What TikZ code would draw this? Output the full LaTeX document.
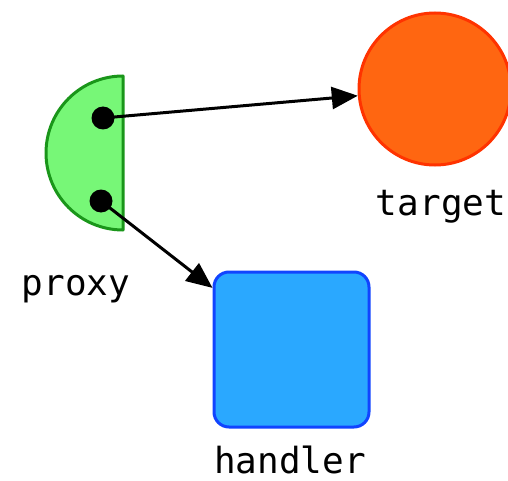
\documentclass[tikz,border=0pt]{standalone}
\usepackage{fontspec}
\newfontfamily\monofont{DejaVu Sans Mono}
\usetikzlibrary{arrows.meta}
\definecolor{pgreen}{HTML}{77F777}
\definecolor{pgreenb}{HTML}{1A961A}
\definecolor{torange}{HTML}{FF6611}
\definecolor{torangeb}{HTML}{FF3300}
\definecolor{hblue}{HTML}{2AA8FF}
\definecolor{hblueb}{HTML}{1144FF}
\tikzset{
  lbl/.style={font=\monofont\fontsize{36}{40}\selectfont, inner sep=0pt, anchor=base},
  dotnode/.style={circle, fill=black, minimum size=23pt, inner sep=0pt},
  conn/.style={line width=3pt, -{Triangle[length=26pt,width=22pt]}}
}
\begin{document}
\begin{tikzpicture}[x=1pt,y=-1pt]
\useasboundingbox (0,0) rectangle (508,481);
\clip (0,0) rectangle (508,481);
% proxy half disk
\draw[fill=pgreen, draw=pgreenb, line width=3pt, line join=round]
  (123,76) arc[start angle=270, end angle=90, radius=77] -- cycle;
\node[dotnode] (d1) at (103,118) {};
\node[dotnode] (d2) at (101,201) {};
% target
\node[circle, fill=torange, draw=torangeb, line width=3pt, minimum size=152pt, inner sep=0pt] (target) at (435,89) {};
% handler
\node[rectangle, rounded corners=15pt, fill=hblue, draw=hblueb, line width=3pt, minimum width=155pt, minimum height=155pt, inner sep=0pt] (handler) at (291.5,349.5) {};
% labels
\node[lbl] (lproxy) at (76,295) {proxy};
\node[lbl] (ltarget) at (441,215) {target};
\node[lbl] (lhandler) at (290,473) {handler};
% connectors
\draw[conn] (d1.center) -- (target);
\draw[conn] (d2.center) -- (handler);
\end{tikzpicture}
\end{document}
